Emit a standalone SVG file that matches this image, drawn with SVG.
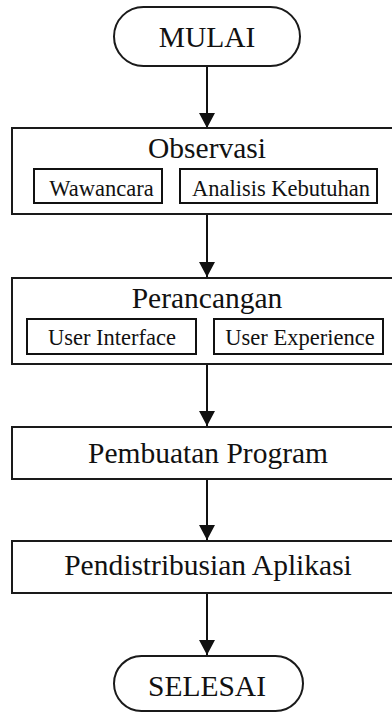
<svg xmlns="http://www.w3.org/2000/svg" width="392" height="713" viewBox="0 0 392 713">
  <defs>
    <marker id="arrow" markerUnits="userSpaceOnUse" markerWidth="15" markerHeight="16" viewBox="0 0 15 16" refX="15" refY="8" orient="auto">
      <path d="M0,0 L15,8 L0,16 Z" fill="#111"/>
    </marker>
    <style>
      .box { fill: #fff; stroke: #1a1a1a; stroke-width: 2; }
      .sub { fill: #fff; stroke: #111; stroke-width: 2; }
      .big { font-size: 29.5px; fill: #111; text-anchor: middle; }
      .small { font-size: 22.5px; fill: #111; text-anchor: middle; }
      .edge { stroke: #111; stroke-width: 2; fill: none; marker-end: url(#arrow); }
    </style>
  </defs>
  <rect width="392" height="713" fill="#fff"/>

  <g id="connectors">
    <line class="edge" x1="207" y1="66" x2="207" y2="128"/>
    <line class="edge" x1="207" y1="214" x2="207" y2="277"/>
    <line class="edge" x1="207" y1="364" x2="207" y2="426"/>
    <line class="edge" x1="207" y1="479" x2="207" y2="540"/>
    <line class="edge" x1="207" y1="593" x2="207" y2="655"/>
  </g>

  <g id="mulai">
    <rect class="box" x="114" y="7" width="186" height="59" rx="29.5" ry="29.5"/>
    <text class="big" font-family="Times New Roman, Liberation Serif, serif" x="207" y="47">MULAI</text>
  </g>

  <g id="observasi">
    <rect class="box" x="12" y="128" width="392" height="86"/>
    <text class="big" font-family="Times New Roman, Liberation Serif, serif" x="207" y="158">Observasi</text>
    <g id="wawancara">
      <rect class="sub" x="34" y="169" width="128" height="34"/>
      <text class="small" font-family="Times New Roman, Liberation Serif, serif" x="101.5" y="196">Wawancara</text>
    </g>
    <g id="analisis-kebutuhan">
      <rect class="sub" x="180" y="169" width="197" height="34"/>
      <text class="small" font-family="Times New Roman, Liberation Serif, serif" x="281" y="196">Analisis Kebutuhan</text>
    </g>
  </g>

  <g id="perancangan">
    <rect class="box" x="12" y="278" width="392" height="86"/>
    <text class="big" font-family="Times New Roman, Liberation Serif, serif" x="207" y="308">Perancangan</text>
    <g id="user-interface">
      <rect class="sub" x="27" y="319" width="169" height="35"/>
      <text class="small" font-family="Times New Roman, Liberation Serif, serif" x="112" y="345">User Interface</text>
    </g>
    <g id="user-experience">
      <rect class="sub" x="214" y="319" width="169" height="35"/>
      <text class="small" font-family="Times New Roman, Liberation Serif, serif" x="300" y="345">User Experience</text>
    </g>
  </g>

  <g id="pembuatan-program">
    <rect class="box" x="12" y="427" width="392" height="52"/>
    <text class="big" font-family="Times New Roman, Liberation Serif, serif" x="208" y="463">Pembuatan Program</text>
  </g>

  <g id="pendistribusian-aplikasi">
    <rect class="box" x="12" y="541" width="392" height="52"/>
    <text class="big" font-family="Times New Roman, Liberation Serif, serif" x="208" y="575">Pendistribusian Aplikasi</text>
  </g>

  <g id="selesai">
    <rect class="box" x="114" y="656" width="189" height="55" rx="27.5" ry="27.5"/>
    <text class="big" font-family="Times New Roman, Liberation Serif, serif" x="207" y="696">SELESAI</text>
  </g>
</svg>
